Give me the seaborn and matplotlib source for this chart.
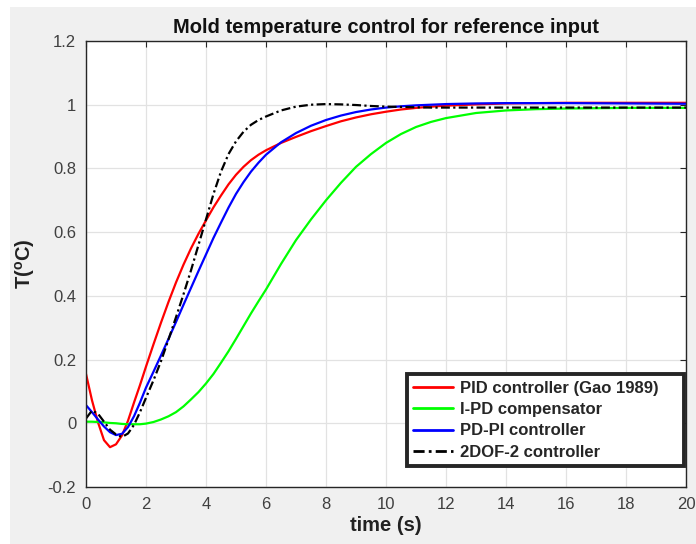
import matplotlib
matplotlib.use("Agg")
import matplotlib.pyplot as plt
from matplotlib.patches import Rectangle
import seaborn as sns
import pandas as pd

# Time axis (s) and step responses
time_s = [0.0, 0.2, 0.4, 0.6, 0.8, 1.0, 1.2, 1.4, 1.6, 1.8, 2.0,
          2.25, 2.5, 2.75, 3.0, 3.25, 3.5, 3.75, 4.0,
          4.25, 4.5, 4.75, 5.0, 5.25, 5.5, 5.75, 6.0,
          6.5, 7.0, 7.5, 8.0, 8.5, 9.0, 9.5, 10.0, 10.5,
          11.0, 11.5, 12.0, 13.0, 14.0, 15.0, 16.0, 18.0, 20.0]

pid_gao = [0.155, 0.072, 0.003, -0.053, -0.075, -0.066, -0.038, 0.008, 0.065, 0.120, 0.178,
           0.248, 0.316, 0.381, 0.442, 0.498, 0.549, 0.595, 0.637,
           0.678, 0.715, 0.750, 0.780, 0.805, 0.826, 0.843, 0.857,
           0.880, 0.899, 0.917, 0.933, 0.948, 0.960, 0.970, 0.978, 0.985,
           0.990, 0.994, 0.997, 1.001, 1.004, 1.005, 1.006, 1.006, 1.006]

ipd_comp = [0.005, 0.005, 0.004, 0.003, 0.001, 0.000, -0.002, -0.003, -0.003, -0.003, -0.001,
            0.004, 0.012, 0.022, 0.035, 0.053, 0.075, 0.098, 0.125,
            0.155, 0.190, 0.226, 0.265, 0.305, 0.345, 0.383, 0.420,
            0.500, 0.575, 0.640, 0.700, 0.755, 0.805, 0.845, 0.880, 0.908,
            0.930, 0.946, 0.958, 0.974, 0.982, 0.986, 0.988, 0.990, 0.990]

pdpi = [0.057, 0.035, 0.012, -0.010, -0.028, -0.037, -0.033, -0.012, 0.022, 0.065, 0.112,
        0.162, 0.213, 0.265, 0.318, 0.372, 0.425, 0.478, 0.530,
        0.582, 0.630, 0.677, 0.720, 0.757, 0.790, 0.818, 0.843,
        0.882, 0.911, 0.934, 0.952, 0.966, 0.977, 0.985, 0.991, 0.995,
        0.998, 1.000, 1.002, 1.004, 1.005, 1.005, 1.005, 1.004, 1.003]

dof2 = [0.015, 0.040, 0.030, 0.005, -0.020, -0.035, -0.043, -0.032, -0.005, 0.035, 0.080,
        0.135, 0.195, 0.263, 0.333, 0.405, 0.480, 0.560, 0.640,
        0.720, 0.790, 0.845, 0.885, 0.915, 0.937, 0.952, 0.963,
        0.982, 0.994, 1.000, 1.002, 1.001, 0.999, 0.996, 0.994, 0.993,
        0.992, 0.991, 0.991, 0.991, 0.991, 0.991, 0.991, 0.991, 0.991]

labels = ["PID controller (Gao 1989)", "I-PD compensator", "PD-PI controller", "2DOF-2 controller"]
series = [pid_gao, ipd_comp, pdpi, dof2]
colors = ["#ff0000", "#00ff00", "#0000ff", "#000000"]

x_ticks = [0, 2, 4, 6, 8, 10, 12, 14, 16, 18, 20]
y_ticks = [-0.2, 0.0, 0.2, 0.4, 0.6, 0.8, 1.0, 1.2]
y_tick_labels = ["-0.2", "0", "0.2", "0.4", "0.6", "0.8", "1", "1.2"]

df = pd.DataFrame([
    {"time": t, "value": v, "controller": lab}
    for lab, vals in zip(labels, series)
    for t, v in zip(time_s, vals)
])

sns.set_theme(style="white")
plt.rcParams["font.family"] = ["Liberation Sans", "DejaVu Sans"]
plt.rcParams["mathtext.default"] = "regular"

fig = plt.figure(figsize=(6.96, 5.44), dpi=100, facecolor="white")
fig.patches.append(Rectangle((10 / 696, 0), 1, 1 - 7 / 544, transform=fig.transFigure,
                             facecolor="#f0f0f0", edgecolor="none", zorder=-10))
ax = fig.add_axes([86 / 696, 1 - 487 / 544, 600 / 696, 446 / 544])
ax.set_facecolor("white")

palette = dict(zip(labels, colors))
dashes = {labels[0]: "", labels[1]: "", labels[2]: "", labels[3]: (4, 1.5, 1, 1.5)}
sns.lineplot(data=df, x="time", y="value", hue="controller", style="controller",
             palette=palette, dashes=dashes, estimator=None, sort=False,
             linewidth=1.6, ax=ax)

ax.set_xlim(0, 20)
ax.set_ylim(-0.2, 1.2)
ax.set_xticks(x_ticks)
ax.set_xticklabels([str(v) for v in x_ticks])
ax.set_yticks(y_ticks)
ax.set_yticklabels(y_tick_labels)
ax.grid(True, color="#e2e2e2", linewidth=0.9)
ax.tick_params(direction="in", length=4, width=0.8, top=True, right=True,
               color="#262626", labelcolor="#404040", labelsize=12, pad=7)
for sp in ax.spines.values():
    sp.set_color("#262626")
    sp.set_linewidth(1.0)

ax.set_title("Mold temperature control for reference input", fontsize=14.5,
             fontweight="bold", color="#111111", pad=6)
ax.set_xlabel("time (s)", fontsize=14.5, fontweight="bold", color="#222222", labelpad=3)
ax.set_ylabel(r"T($^o$C)", fontsize=14.5, fontweight="bold", color="#222222", labelpad=8)

handles, labs = ax.get_legend_handles_labels()
leg = ax.legend(handles, labs, loc="lower left", bbox_to_anchor=(0.535, 0.047, 0.462, 0.206),
                mode="expand", borderaxespad=0, fancybox=False, framealpha=1,
                handlelength=2.4, handletextpad=0.4, labelspacing=0.38, borderpad=0.38,
                prop={"weight": "bold", "size": 12})
leg.get_frame().set_edgecolor("#262626")
leg.get_frame().set_linewidth(2.8)
for line in leg.get_lines():
    line.set_linewidth(2.0)

fig.savefig("out.png", dpi=100, facecolor=fig.get_facecolor())
plt.close(fig)
